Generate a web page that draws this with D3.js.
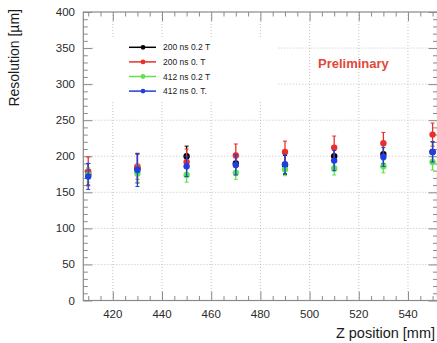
<!DOCTYPE html>
<html>
<head>
<meta charset="utf-8">
<script src="https://cdn.jsdelivr.net/npm/d3@7"></script>
<style>
  body { margin: 0; background: #fff; }
  svg { display: block; font-family: "Liberation Sans", Arial, sans-serif; }
</style>
</head>
<body>
<script>
// z positions (mm)
const zPos = [410, 430, 450, 470, 490, 510, 530, 550];

// resolution values (um)
const res200ns02T = [175, 183, 200, 190, 188, 200, 203, 206];
const res200ns0T = [179, 186, 192, 201, 206, 212, 218, 230];
const res412ns02T = [174, 176, 174, 177, 182, 183, 186, 192];
const res412ns0T = [172, 181, 186, 188, 189, 194, 199, 206];

const err200ns02T = [15, 20, 14, 14, 13, 14, 13, 14];
const err200ns0T = [20, 18, 18, 16, 15, 16, 15, 16];
const err412ns02T = [10, 12, 10, 9, 9, 9, 9, 11];
const err412ns0T = [18, 23, 14, 14, 13, 14, 13, 14];

const seriesNames = ["200 ns 0.2 T", "200 ns 0. T", "412 ns 0.2 T", "412 ns 0. T."];
const seriesColors = ["#000000", "#e8302a", "#5fe34a", "#1f3fe0"];

const xTicks = [420, 440, 460, 480, 500, 520, 540];
const yTicks = [0, 50, 100, 150, 200, 250, 300, 350, 400];

const series = [
  {name: seriesNames[0], color: seriesColors[0], vals: res200ns02T, errs: err200ns02T},
  {name: seriesNames[1], color: seriesColors[1], vals: res200ns0T, errs: err200ns0T},
  {name: seriesNames[2], color: seriesColors[2], vals: res412ns02T, errs: err412ns02T},
  {name: seriesNames[3], color: seriesColors[3], vals: res412ns0T, errs: err412ns0T}
];

const W = 437, H = 343;
const plotL = 83.3, plotR = 437.5, plotT = 12, plotB = 300.5;

const svg = d3.select("body").append("svg")
  .attr("width", W)
  .attr("height", H);

const x = d3.scaleLinear().domain([408, 552]).range([plotL, plotR]);
const y = d3.scaleLinear().domain([0, 400]).range([plotB, plotT]);

const frameColor = "#8a8a8a";
const gridColor = "#b5b5b5";

// grid
const grid = svg.append("g")
  .attr("stroke", gridColor)
  .attr("stroke-width", 0.8)
  .attr("stroke-dasharray", "1,2");
grid.selectAll("line.gx").data(xTicks).join("line")
  .attr("x1", d => x(d)).attr("x2", d => x(d))
  .attr("y1", plotT).attr("y2", plotB);
grid.selectAll("line.gy").data(yTicks.slice(1, -1)).join("line")
  .attr("x1", plotL).attr("x2", plotR)
  .attr("y1", d => y(d)).attr("y2", d => y(d));

// legend background hides grid
svg.append("rect")
  .attr("x", 95).attr("y", 37)
  .attr("width", 182).attr("height", 63)
  .attr("fill", "#fff");

// ticks (inside, on all four sides)
const minorY = d3.range(0, 401, 10).filter(v => v % 50 !== 0);
const minorX = d3.range(410, 551, 5).filter(v => v % 20 !== 0);

const ticks = svg.append("g");
const yAxisL = d3.axisRight(y).tickValues(yTicks).tickSize(9).tickFormat("");
const yAxisLm = d3.axisRight(y).tickValues(minorY).tickSize(4.5).tickFormat("");
const yAxisR = d3.axisLeft(y).tickValues(yTicks).tickSize(9).tickFormat("");
const yAxisRm = d3.axisLeft(y).tickValues(minorY).tickSize(4.5).tickFormat("");
const xAxisB = d3.axisTop(x).tickValues(xTicks).tickSize(9).tickFormat("");
const xAxisBm = d3.axisTop(x).tickValues(minorX).tickSize(4.5).tickFormat("");
const xAxisT = d3.axisBottom(x).tickValues(xTicks).tickSize(9).tickFormat("");
const xAxisTm = d3.axisBottom(x).tickValues(minorX).tickSize(4.5).tickFormat("");

[[yAxisL, `translate(${plotL},0)`], [yAxisLm, `translate(${plotL},0)`],
 [yAxisR, `translate(${plotR},0)`], [yAxisRm, `translate(${plotR},0)`],
 [xAxisB, `translate(0,${plotB})`], [xAxisBm, `translate(0,${plotB})`],
 [xAxisT, `translate(0,${plotT})`], [xAxisTm, `translate(0,${plotT})`]].forEach(([ax, tr]) => {
  const g = ticks.append("g").attr("transform", tr).call(ax);
  g.select(".domain").remove();
  g.selectAll("line").attr("stroke", frameColor).attr("stroke-width", 1);
});

// frame
svg.append("rect")
  .attr("x", plotL).attr("y", plotT)
  .attr("width", plotR - plotL).attr("height", plotB - plotT)
  .attr("fill", "none")
  .attr("stroke", frameColor)
  .attr("stroke-width", 1.2);

// tick labels
svg.append("g").selectAll("text").data(yTicks).join("text")
  .attr("x", 75).attr("y", d => y(d) + 4)
  .attr("text-anchor", "end")
  .attr("font-size", 11.5)
  .attr("fill", "#2a2a2a")
  .text(d => d);

svg.append("g").selectAll("text").data(xTicks).join("text")
  .attr("x", d => x(d)).attr("y", 317.5)
  .attr("text-anchor", "middle")
  .attr("font-size", 11.5)
  .attr("fill", "#2a2a2a")
  .text(d => d);

// axis titles
svg.append("text")
  .attr("transform", "translate(19,9) rotate(-90)")
  .attr("text-anchor", "end")
  .attr("font-size", 14)
  .attr("fill", "#1a1a1a")
  .text("Resolution [\u00b5m]");

svg.append("text")
  .attr("x", 435).attr("y", 338)
  .attr("text-anchor", "end")
  .attr("font-size", 14.5)
  .attr("fill", "#1a1a1a")
  .text("Z position [mm]");

// data with error bars
series.forEach(s => {
  const g = svg.append("g");
  const pts = zPos.map((z, i) => ({z, v: s.vals[i], e: s.errs[i]}));
  g.selectAll("line.err").data(pts).join("line")
    .attr("x1", d => x(d.z)).attr("x2", d => x(d.z))
    .attr("y1", d => y(d.v - d.e)).attr("y2", d => y(d.v + d.e))
    .attr("stroke", s.color).attr("stroke-width", 1.3);
  g.selectAll("line.capt").data(pts).join("line")
    .attr("x1", d => x(d.z) - 2).attr("x2", d => x(d.z) + 2)
    .attr("y1", d => y(d.v + d.e)).attr("y2", d => y(d.v + d.e))
    .attr("stroke", s.color).attr("stroke-width", 1);
  g.selectAll("line.capb").data(pts).join("line")
    .attr("x1", d => x(d.z) - 2).attr("x2", d => x(d.z) + 2)
    .attr("y1", d => y(d.v - d.e)).attr("y2", d => y(d.v - d.e))
    .attr("stroke", s.color).attr("stroke-width", 1);
  g.selectAll("circle").data(pts).join("circle")
    .attr("cx", d => x(d.z)).attr("cy", d => y(d.v))
    .attr("r", 3.2)
    .attr("fill", s.color);
});

// legend
const legend = svg.append("g");
series.forEach((s, i) => {
  const ly = 47.3 + i * 14.6;
  legend.append("line")
    .attr("x1", 129).attr("x2", 156)
    .attr("y1", ly).attr("y2", ly)
    .attr("stroke", s.color).attr("stroke-width", 1.5);
  legend.append("circle")
    .attr("cx", 143).attr("cy", ly).attr("r", 2.4)
    .attr("fill", s.color);
  legend.append("text")
    .attr("x", 163).attr("y", ly + 3)
    .attr("font-size", 8.5)
    .attr("fill", "#222")
    .text(s.name);
});

svg.append("text")
  .attr("x", 318).attr("y", 67.5)
  .attr("font-size", 13)
  .attr("font-weight", "bold")
  .attr("fill", "#e0483a")
  .text("Preliminary");
</script>
</body>
</html>
